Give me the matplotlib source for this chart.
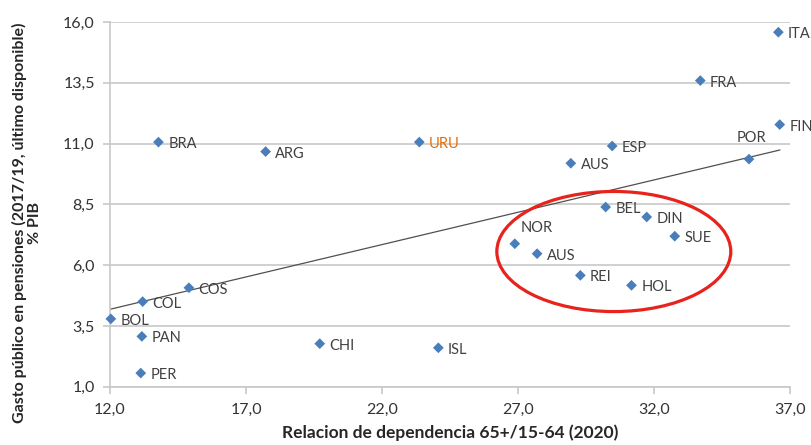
import numpy as np
import matplotlib
matplotlib.use("Agg")
import matplotlib.pyplot as plt
from matplotlib.patches import Ellipse
from matplotlib.ticker import FuncFormatter

plt.rcParams['font.family'] = ['Lato', 'DejaVu Sans']

# Country codes, old-age dependency ratio (65+/15-64, 2020) and pension spending (% GDP)
countries = ["BRA", "ARG", "URU", "ESP", "AUS", "FRA", "ITA", "FIN", "POR",
             "BEL", "DIN", "NOR", "AUS", "SUE", "REI", "HOL", "ISL", "CHI",
             "COS", "COL", "BOL", "PAN", "PER"]
dependency = [13.78, 17.72, 23.37, 30.46, 28.94, 33.70, 36.57, 36.62, 35.49,
              30.22, 31.73, 26.88, 27.70, 32.76, 29.29, 31.17, 24.07, 19.71,
              14.90, 13.20, 12.03, 13.17, 13.13]
spending = [11.06, 10.67, 11.06, 10.90, 10.19, 13.59, 15.58, 11.78, 10.36,
            8.39, 7.98, 6.88, 6.47, 7.19, 5.58, 5.17, 2.60, 2.77,
            5.07, 4.50, 3.79, 3.07, 1.56]

x_ticks = [12.0, 17.0, 22.0, 27.0, 32.0, 37.0]
y_ticks = [1.0, 3.5, 6.0, 8.5, 11.0, 13.5, 16.0]

x = np.array(dependency)
y = np.array(spending)

fig = plt.figure(figsize=(8.12, 4.45), dpi=100)
ax = fig.add_axes([0.1355, 0.131, 0.973 - 0.1355, 0.9506 - 0.131])

ax.set_xlim(x_ticks[0], x_ticks[-1])
ax.set_ylim(y_ticks[0], y_ticks[-1])
ax.set_xticks(x_ticks)
ax.set_yticks(y_ticks)
fmt = FuncFormatter(lambda v, p: f"{v:.1f}".replace(".", ","))
ax.xaxis.set_major_formatter(fmt)
ax.yaxis.set_major_formatter(fmt)

ax.grid(axis='y', color='#c8c8c8', linewidth=1.2, zorder=0)
for side in ('top', 'right'):
    ax.spines[side].set_visible(False)
for side in ('left', 'bottom'):
    ax.spines[side].set_color('#c8c8c8')
    ax.spines[side].set_linewidth(1.2)
ax.tick_params(axis='both', colors='#c8c8c8', length=5, width=1.2,
               labelcolor='#333333', labelsize=11.5)
ax.tick_params(axis='x', pad=7)
ax.tick_params(axis='y', pad=6)

# Linear trend over all countries
slope, intercept = np.polyfit(x, y, 1)
tx = np.array([x.min(), x.max()])
ax.plot(tx, slope * tx + intercept, color='#505050', linewidth=0.9, zorder=2)

ax.scatter(x, y, marker='D', s=30, color='#4a7ebb', edgecolors='none',
           zorder=3, clip_on=False)

for name, xi, yi in zip(countries, x, y):
    color = '#e36c0a' if name == "URU" else '#404040'
    if name == "POR":
        ax.annotate(name, (xi, yi), xytext=(2, 10), textcoords='offset points',
                    ha='center', va='bottom', fontsize=10.5, color=color)
    elif name == "NOR":
        ax.annotate(name, (xi, yi), xytext=(4, 6), textcoords='offset points',
                    ha='left', va='bottom', fontsize=10.5, color=color)
    else:
        ax.annotate(name, (xi, yi), xytext=(7, -1.5), textcoords='offset points',
                    ha='left', va='center', fontsize=10.5, color=color)

# Highlight of the European group with lower spending
ax.add_patch(Ellipse((30.52, 6.56), 8.6, 4.94, fill=False,
                     edgecolor='#e8221c', linewidth=2.3, zorder=4))

ax.set_xlabel("Relacion de dependencia 65+/15-64 (2020)", fontsize=12.5,
              fontweight='bold', color='#262626', labelpad=5)
fig.text(0.033, 0.50, "Gasto público en pensiones (2017/19, último disponible)\n% PIB",
         rotation=90, ha='center', va='center', multialignment='center',
         fontsize=11.5, fontweight='bold', color='#262626', linespacing=1.15)

fig.savefig("out.png", dpi=100)
